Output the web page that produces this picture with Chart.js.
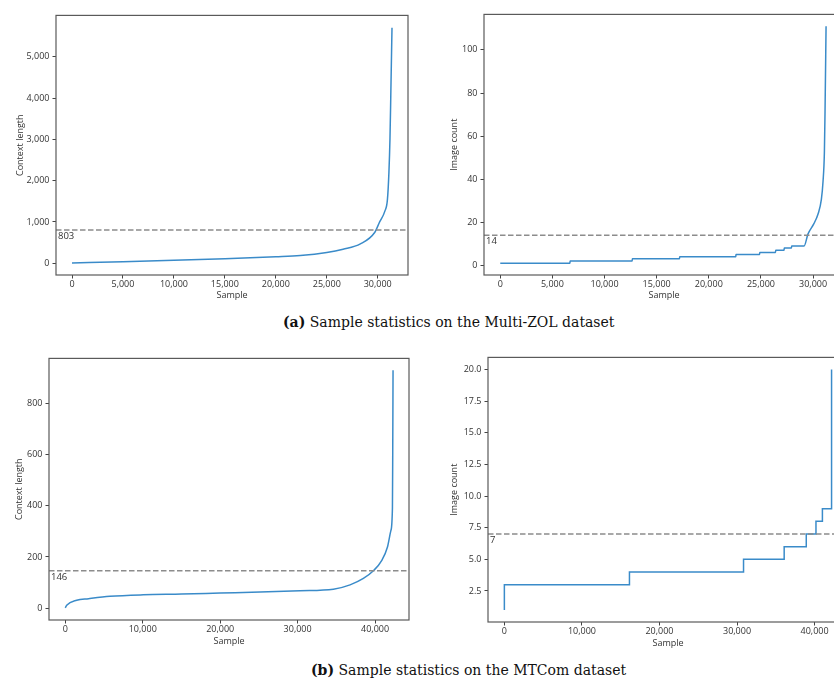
<!DOCTYPE html>
<html>
<head>
<meta charset="utf-8">
<script src="https://cdn.jsdelivr.net/npm/chart.js@4"></script>
<style>
    html, body { margin: 0; padding: 0; background: #fff; }
    body { width: 834px; height: 681px; overflow: hidden; position: relative; }
    .panel { position: absolute; }
    .caption { position: absolute; font-family: "DejaVu Serif", serif; font-size: 14px; line-height: 16px; color: #111; white-space: nowrap; }
</style>
</head>
<body>
<div class="panel" id="p1"><canvas id="c1"></canvas></div>
<div class="panel" id="p2"><canvas id="c2"></canvas></div>
<div class="panel" id="p3"><canvas id="c3"></canvas></div>
<div class="panel" id="p4"><canvas id="c4"></canvas></div>
<div class="caption" style="left:283px; top:314px;"><b>(a)</b> Sample statistics on the Multi-ZOL dataset</div>
<div class="caption" style="left:311px; top:662px;"><b>(b)</b> Sample statistics on the MTCom dataset</div>
<script>
// Multi-ZOL: context length per sample (sorted)
const zolLenX = [0, 5000, 10000, 15000, 20000, 22400, 25000, 26600, 28300, 29700, 30200, 30700, 30950, 31100, 31200, 31280, 31400];
const zolLenY = [5, 35, 70, 108, 155, 185, 260, 340, 469, 745, 1007, 1262, 1540, 2214, 3007, 4040, 5707];
const zolLenMean = 803;

// Multi-ZOL: image count per sample (sorted)
const zolImgX = [0, 6680, 6700, 12650, 12670, 17190, 17210, 22590, 22610, 24870, 24890, 26400, 26420, 27220, 27240, 27930, 27950, 29140, 29520, 30070, 30480, 30800, 30960, 31090, 31150, 31250];
const zolImgY = [1, 1, 2, 2, 3, 3, 4, 4, 5, 5, 6, 6, 7, 7, 8, 8, 9, 9, 14.6, 19.2, 23.8, 30.6, 39, 52.7, 71, 111];
const zolImgMean = 14;

// MTCom: context length per sample (sorted)
const mtLenX = [0, 180, 1470, 3000, 5770, 10070, 15000, 20000, 25150, 30310, 34620, 36770, 38490, 39780, 40870, 41590, 42030, 42240, 42280, 42320];
const mtLenY = [1, 11, 31, 37, 46, 52, 55, 59, 63, 68, 74, 91, 116, 146, 187, 238, 302, 391, 609, 930];
const mtLenMean = 146;

// MTCom: image count per sample (step starts)
const mtImgX = [0, 0, 16130, 30840, 36080, 38930, 40180, 41010, 42190];
const mtImgY = [1, 3, 4, 5, 6, 7, 8, 9, 20];
const mtImgMean = 7;

// tick labels
const zolXTicks = [0, 5000, 10000, 15000, 20000, 25000, 30000];
const zolLenYTicks = [0, 1000, 2000, 3000, 4000, 5000];
const zolImgYTicks = [0, 20, 40, 60, 80, 100];
const mtXTicks = [0, 10000, 20000, 30000, 40000];
const mtLenYTicks = [0, 200, 400, 600, 800];
const mtImgYTicks = [2.5, 5, 7.5, 10, 12.5, 15, 17.5, 20];

const FONT = { family: '"Open Sans", sans-serif', size: 9 };
const TEXT = '#333';
const BLUE = '#3a8bc9';
const HALF_LH = FONT.size * 1.2 / 2;

const frame = {
    id: 'frame',
    afterDraw(chart) {
        const a = chart.chartArea;
        const ctx = chart.ctx;
        ctx.save();
        ctx.strokeStyle = '#5a5a5a';
        ctx.lineWidth = 1.2;
        ctx.strokeRect(a.left, a.top, a.right - a.left, a.bottom - a.top);
        ctx.restore();
    }
};

const meanLine = {
    id: 'meanLine',
    afterDatasetsDraw(chart, args, opts) {
        const a = chart.chartArea;
        const ctx = chart.ctx;
        const y = chart.scales.y.getPixelForValue(opts.value);
        ctx.save();
        ctx.beginPath();
        ctx.rect(a.left, a.top, a.right - a.left, a.bottom - a.top);
        ctx.clip();
        ctx.strokeStyle = '#8c8c8c';
        ctx.lineWidth = 1.5;
        ctx.setLineDash([5.5, 2.5]);
        ctx.beginPath();
        ctx.moveTo(a.left, y);
        ctx.lineTo(a.right, y);
        ctx.stroke();
        ctx.restore();
        ctx.save();
        ctx.fillStyle = TEXT;
        ctx.font = '9.5px "Open Sans", sans-serif';
        ctx.textBaseline = 'middle';
        ctx.fillText(String(opts.value), a.left + 2, y + 6.5);
        ctx.restore();
    }
};

function pts(xs, ys) {
    return xs.map((x, i) => ({ x: x, y: ys[i] }));
}

function makePanel(id, cfg) {
    // place the wrapper so the plot box lands on cfg.box
    const b = cfg.box;
    const left = Math.round(cfg.yTitleX - HALF_LH);
    const top = b.top - 4;
    const bottom = Math.round(cfg.xTitleY + HALF_LH);
    const wrap = document.getElementById('p' + id);
    wrap.style.left = left + 'px';
    wrap.style.top = top + 'px';
    wrap.style.width = (b.right + 4 - left) + 'px';
    wrap.style.height = (bottom - top) + 'px';
    const yWidth = b.left - left;
    const xHeight = bottom - b.bottom;

    new Chart(document.getElementById('c' + id), {
        type: 'line',
        data: {
            datasets: [{
                data: pts(cfg.xs, cfg.ys),
                borderColor: BLUE,
                borderWidth: 1.5,
                pointRadius: 0,
                fill: false,
                cubicInterpolationMode: cfg.stepped ? 'default' : 'monotone',
                stepped: cfg.stepped ? 'before' : false
            }]
        },
        options: {
            responsive: true,
            maintainAspectRatio: false,
            animation: false,
            layout: { padding: { top: 4, right: 4, left: 0, bottom: 0 } },
            plugins: {
                legend: { display: false },
                tooltip: { enabled: false },
                meanLine: { value: cfg.mean }
            },
            scales: {
                x: {
                    type: 'linear',
                    min: cfg.xMin,
                    max: cfg.xMax,
                    afterBuildTicks: s => { s.ticks = cfg.xTicks.map(v => ({ value: v })); },
                    afterFit: s => { s.height = xHeight; },
                    border: { display: false },
                    grid: { drawOnChartArea: false, tickLength: 3.5, tickColor: '#444', tickWidth: 1 },
                    ticks: {
                        autoSkip: false, maxRotation: 0, padding: 1, color: TEXT, font: FONT,
                        callback: v => v.toLocaleString('en-US')
                    },
                    title: { display: true, text: 'Sample', color: TEXT, font: FONT, padding: 0 }
                },
                y: {
                    type: 'linear',
                    min: cfg.yMin,
                    max: cfg.yMax,
                    afterBuildTicks: s => { s.ticks = cfg.yTicks.map(v => ({ value: v })); },
                    afterFit: s => { s.width = yWidth; },
                    border: { display: false },
                    grid: { drawOnChartArea: false, tickLength: 3.5, tickColor: '#444', tickWidth: 1 },
                    ticks: {
                        autoSkip: false, padding: 3, color: TEXT, font: FONT,
                        callback: cfg.yFormat
                    },
                    title: { display: true, text: cfg.yTitle, color: TEXT, font: FONT, padding: 0 }
                }
            }
        },
        plugins: [frame, meanLine]
    });
}

const commas = v => v.toLocaleString('en-US');

makePanel(1, {
    box: { left: 56, top: 11, right: 408, bottom: 275 },
    yTitleX: 20, xTitleY: 296,
    xs: zolLenX, ys: zolLenY, mean: zolLenMean,
    xMin: -1570, xMax: 32970, yMin: -286, yMax: 6006,
    xTicks: zolXTicks, yTicks: zolLenYTicks,
    yTitle: 'Context length', yFormat: commas
});

makePanel(2, {
    box: { left: 484, top: 10, right: 844, bottom: 275 },
    yTitleX: 454, xTitleY: 296,
    xs: zolImgX, ys: zolImgY, mean: zolImgMean,
    xMin: -1560, xMax: 32970, yMin: -4.5, yMax: 116.5,
    xTicks: zolXTicks, yTicks: zolImgYTicks,
    yTitle: 'Image count', yFormat: commas
});

makePanel(3, {
    box: { left: 49, top: 354, right: 409, bottom: 620 },
    yTitleX: 19, xTitleY: 642,
    xs: mtLenX, ys: mtLenY, mean: mtLenMean,
    xMin: -2105, xMax: 44380, yMin: -46.5, yMax: 976.5,
    xTicks: mtXTicks, yTicks: mtLenYTicks,
    yTitle: 'Context length', yFormat: commas
});

makePanel(4, {
    box: { left: 488, top: 353, right: 848, bottom: 622 },
    yTitleX: 454.5, xTitleY: 644,
    xs: mtImgX, ys: mtImgY, mean: mtImgMean, stepped: true,
    xMin: -2110, xMax: 44310, yMin: 0.05, yMax: 20.95,
    xTicks: mtXTicks, yTicks: mtImgYTicks,
    yTitle: 'Image count', yFormat: v => v.toFixed(1)
});
</script>
</body>
</html>
